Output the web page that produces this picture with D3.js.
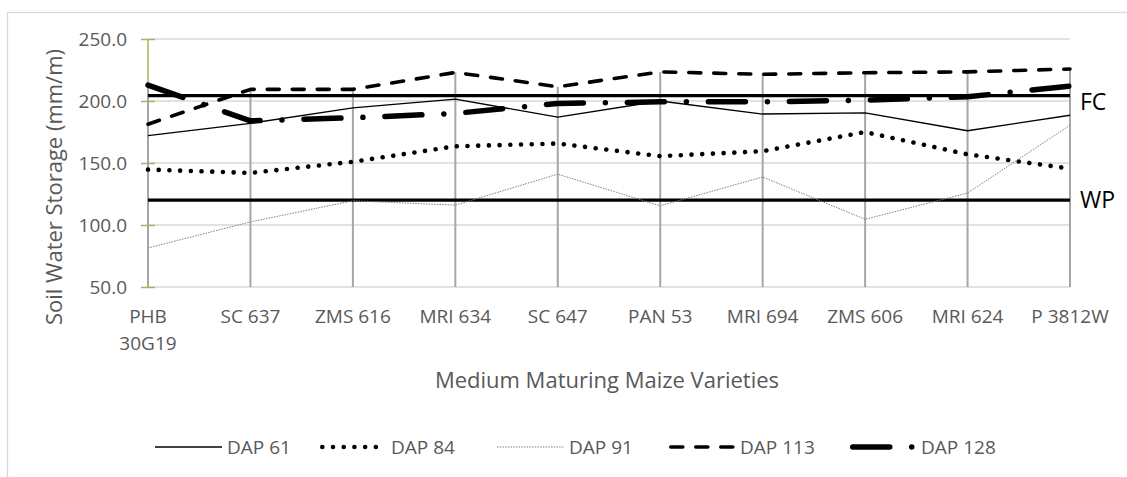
<!doctype html>
<html lang="en">
<head>
<meta charset="utf-8">
<title>Soil Water Storage</title>
<script src="https://d3js.org/d3.v7.min.js"></script>
<style>
  body { margin: 0; background: #fff; }
  svg text { font-family: "Open Sans", "DejaVu Sans", sans-serif; }
</style>
</head>
<body>
<svg id="chart" width="1127" height="477"></svg>
<script>
// categories on the x axis
var categories = ["PHB 30G19", "SC 637", "ZMS 616", "MRI 634", "SC 647", "PAN 53", "MRI 694", "ZMS 606", "MRI 624", "P 3812W"];

// soil water storage (mm/m)
var dap61  = [172, 182, 194.5, 201.5, 187, 200, 189.5, 190.5, 176, 188.5];
var dap84  = [144.7, 142, 151, 163.5, 165.7, 155.5, 159.5, 175, 157, 145.5];
var dap91  = [81.5, 102.5, 119.5, 116, 141, 115.5, 138.7, 104.6, 125.8, 180.5];
var dap113 = [181.3, 209.4, 209.4, 223, 211.5, 223.5, 221.5, 222.8, 223.5, 225.8];
var dap128 = [212.8, 184, 186.5, 190, 198, 199.3, 199.3, 200.7, 203.4, 212];

// field capacity and wilting point
var fcLevel = 204.3;
var wpLevel = 120;

var yTicks = [50, 100, 150, 200, 250];
var legendNames = ["DAP 61", "DAP 84", "DAP 91", "DAP 113", "DAP 128"];

var series = [
  { name: "DAP 61",  values: dap61,  color: "#000", width: 1.3, dash: null, cap: "butt" },
  { name: "DAP 84",  values: dap84,  color: "#000", width: 4.6, dash: "0.01 10.7", cap: "round" },
  { name: "DAP 91",  values: dap91,  color: "#808080", width: 1, dash: "1.5 1.2", cap: "butt" },
  { name: "DAP 113", values: dap113, color: "#000", width: 3.6, dash: "12 13", cap: "round" },
  { name: "DAP 128", values: dap128, color: "#000", width: 5.5, dash: "37 22 0.01 22", cap: "round" }
];

var plotLeft = 148, plotRight = 1070, plotTop = 39, plotBottom = 287;
var textColor = "#595959";

var svg = d3.select("#chart");

// chart border (cropped on right/bottom like the original)
svg.append("rect").attr("x", 7.5).attr("y", 12.5).attr("width", 1300).attr("height", 700)
  .attr("fill", "none").attr("stroke", "#d9d9d9").attr("stroke-width", 1.3);

var x = d3.scalePoint().domain(categories).range([plotLeft, plotRight]);
var y = d3.scaleLinear().domain([50, 250]).range([plotBottom, plotTop]);

// horizontal gridlines
svg.append("g").selectAll("line").data(yTicks).enter().append("line")
  .attr("x1", plotLeft).attr("x2", plotRight)
  .attr("y1", function(d) { return y(d); }).attr("y2", function(d) { return y(d); })
  .attr("stroke", "#d9d9d9").attr("stroke-width", 1.3);

// y axis: green line with crossing ticks
var yAxis = svg.append("g").attr("transform", "translate(" + plotLeft + ",0)")
  .call(d3.axisLeft(y).tickValues(yTicks).tickSize(7).tickFormat(d3.format(".1f")));
yAxis.select(".domain").attr("stroke", "#9bbb59").attr("stroke-width", 1.5)
  .attr("d", "M0," + plotTop + "V" + plotBottom);
yAxis.selectAll(".tick line").attr("stroke", "#9bbb59").attr("stroke-width", 1.5).attr("x2", 7).attr("x1", -7);
yAxis.selectAll(".tick text").attr("x", -21).attr("fill", textColor).style("font-size", "19px").attr("dy", "0.34em");

// drop lines from the highest value down to the axis
var maxVals = categories.map(function(c, i) {
  return d3.max(series, function(s) { return s.values[i]; });
});
svg.append("g").selectAll("line").data(categories).enter().append("line")
  .attr("x1", function(d) { return x(d); }).attr("x2", function(d) { return x(d); })
  .attr("y1", function(d, i) { return y(maxVals[i]); }).attr("y2", y(50))
  .attr("stroke", "#a6a6a6").attr("stroke-width", 2);

// x tick labels (wrap long ones)
var xLabels = svg.append("g").selectAll("text").data(categories).enter().append("text")
  .attr("x", function(d) { return x(d); }).attr("y", 323)
  .attr("text-anchor", "middle").attr("fill", textColor).style("font-size", "19px")
  .text(function(d) { return d; });
xLabels.each(function(d) {
  var t = d3.select(this);
  if (this.getComputedTextLength() > 95) {
    var words = d.split(" ");
    t.text(null);
    words.forEach(function(w, i) {
      t.append("tspan").attr("x", x(d)).attr("dy", i == 0 ? 0 : 27).text(w);
    });
  }
});

// FC and WP reference lines
[fcLevel, wpLevel].forEach(function(v) {
  svg.append("line").attr("x1", plotLeft).attr("x2", plotRight)
    .attr("y1", y(v)).attr("y2", y(v))
    .attr("stroke", "#000").attr("stroke-width", 3.2);
});
svg.append("text").attr("x", 1080).attr("y", y(fcLevel) + 14).text("FC")
  .attr("fill", "#000").style("font-size", "23px");
svg.append("text").attr("x", 1080).attr("y", y(wpLevel) + 8).text("WP")
  .attr("fill", "#000").style("font-size", "23px");

// series lines
var line = d3.line()
  .x(function(d, i) { return x(categories[i]); })
  .y(function(d) { return y(d); });

series.forEach(function(s) {
  svg.append("path").datum(s.values)
    .attr("d", line)
    .attr("fill", "none")
    .attr("stroke", s.color)
    .attr("stroke-width", s.width)
    .attr("stroke-dasharray", s.dash)
    .attr("stroke-linecap", s.cap)
    .attr("stroke-linejoin", "round");
});

// axis titles
svg.append("text").attr("transform", "translate(62,187) rotate(-90)")
  .attr("text-anchor", "middle").attr("fill", textColor).style("font-size", "22px")
  .text("Soil Water Storage (mm/m)");
svg.append("text").attr("x", 607).attr("y", 388)
  .attr("text-anchor", "middle").attr("fill", textColor).style("font-size", "22px")
  .text("Medium Maturing Maize Varieties");

// legend
var legendX = [155, 319, 497, 668, 849];
var legendY = 447;
series.forEach(function(s, i) {
  var g = svg.append("g").attr("transform", "translate(" + legendX[i] + "," + legendY + ")");
  var x1 = s.cap == "round" ? s.width / 2 + 1 : 0;
  g.append("line").attr("x1", x1).attr("x2", 67).attr("y1", 0).attr("y2", 0)
    .attr("stroke", s.color).attr("stroke-width", s.width)
    .attr("stroke-dasharray", s.dash).attr("stroke-linecap", s.cap);
  g.append("text").attr("x", 72).attr("y", 6.5)
    .attr("fill", textColor).style("font-size", "19px").text(legendNames[i]);
});
</script>
</body>
</html>
